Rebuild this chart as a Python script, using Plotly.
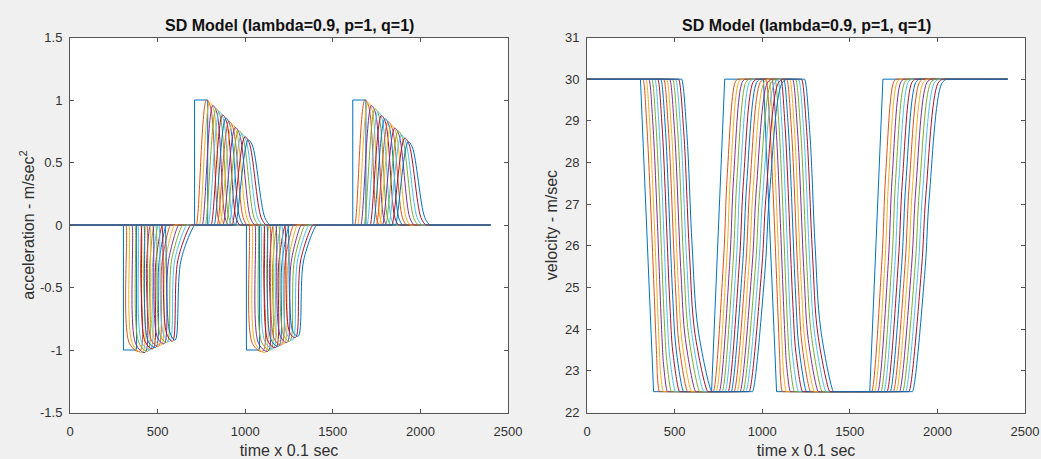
import plotly.graph_objects as go

# ---------------- data ----------------
T_END = 2400
N_FOLLOWERS = 14
COLORS = ['#0072BD', '#D95319', '#EDB120', '#7E2F8E', '#77AC30', '#4DBEEE', '#A2142F']

# Leader (vehicle 1): step acceleration profile and its velocity
LEAD_ACC_T = [0, 305, 305, 380, 380, 711, 711, 786, 786, 1007, 1007, 1082, 1082, 1614, 1614, 1689, 1689, 2400]
LEAD_ACC_V = [0, 0, -1, -1, 0, 0, 1, 1, 0, 0, -1, -1, 0, 0, 1, 1, 0, 0]
LEAD_VEL_T = [0, 305, 380, 711, 786, 1007, 1082, 1614, 1689, 2400]
LEAD_VEL_V = [30, 30, 22.5, 22.5, 30, 30, 22.5, 22.5, 30, 30]

V_HIGH = 30
V_LOW = 22.5

# Event 1: first braking wave (followers 2..15)
E1_T0 = [319, 336, 353, 370, 387, 404, 421, 438, 455, 472, 489, 506, 523, 540]
E1_T1 = [340, 357, 375, 393, 410, 428, 446, 464, 481, 499, 517, 535, 552, 570]
E1_A1 = [-0.95, -0.95, -0.95, -0.94, -0.94, -0.93, -0.93, -0.92, -0.91, -0.9, -0.89, -0.88, -0.87, -0.86]
E1_T2 = [398, 413, 428, 443, 458, 473, 489, 505, 521, 537, 553, 569, 585, 600]
E1_A2 = [-1.01, -1.02, -1.02, -1.01, -1.0, -0.99, -0.98, -0.97, -0.96, -0.95, -0.94, -0.93, -0.93, -0.92]
E1_T3K = [403, 420, 437, 455, 472, 490, 508, 526, 544, 562, 580, 598, 616, 634]
E1_A3 = [-0.32, -0.32, -0.31, -0.31, -0.3, -0.3, -0.3, -0.29, -0.29, -0.29, -0.28, -0.28, -0.28, -0.28]
E1_T3 = [413, 436, 459, 482, 505, 528, 551, 574, 597, 620, 643, 666, 689, 712]
E1_VA = [29.0, 29.0, 29.0, 28.95, 28.95, 28.9, 28.9, 28.85, 28.85, 28.8, 28.8, 28.75, 28.75, 28.7]
E1_VB = [23.3, 23.5, 23.8, 24.05, 24.3, 24.6, 24.8, 25.0, 25.1, 25.3, 25.5, 25.65, 25.8, 26.0]
E1_VC = [22.8, 22.95, 23.15, 23.25, 23.35, 23.45, 23.55, 23.6, 23.65, 23.75, 23.85, 23.9, 23.9, 24.0]

# Event 2: first speed-up wave
E2_T0 = [721, 738, 755, 772, 789, 806, 823, 840, 857, 874, 891, 908, 926, 945]
E2_P = [779, 797, 815, 834, 852, 870, 889, 907, 925, 943, 962, 980, 998, 1017]
E2_H = [1.0, 0.98, 0.955, 0.93, 0.905, 0.88, 0.855, 0.83, 0.805, 0.78, 0.755, 0.73, 0.705, 0.68]
E2_F = [801, 819, 837, 856, 874, 893, 912, 930, 949, 967, 986, 1004, 1022, 1040]
E2_HF = [0.95, 0.93, 0.905, 0.88, 0.855, 0.83, 0.805, 0.78, 0.755, 0.73, 0.705, 0.68, 0.66, 0.64]
E2_G = [845, 865, 885, 906, 926, 947, 968, 988, 1009, 1029, 1050, 1070, 1091, 1112]
E2_HG = [0.06, 0.06, 0.06, 0.06, 0.06, 0.06, 0.06, 0.06, 0.06, 0.06, 0.06, 0.06, 0.06, 0.06]
E2_T3 = [860, 882, 903, 925, 946, 968, 990, 1011, 1033, 1054, 1076, 1097, 1119, 1141]
E2_VP = [25.63, 25.63, 25.62, 25.62, 25.61, 25.61, 25.6, 25.58, 25.56, 25.54, 25.53, 25.51, 25.48, 25.46]
E2_VF = [27.74, 27.7, 27.66, 27.62, 27.58, 27.55, 27.51, 27.46, 27.42, 27.37, 27.32, 27.26, 27.2, 27.13]
E2_VG = [29.92, 29.92, 29.92, 29.92, 29.92, 29.92, 29.92, 29.92, 29.91, 29.91, 29.91, 29.9, 29.9, 29.9]

# Event 3: second braking wave
E3_T0 = [1021, 1038, 1055, 1072, 1089, 1106, 1123, 1140, 1157, 1174, 1191, 1208, 1225, 1242]
E3_T1 = [1042, 1059, 1077, 1095, 1112, 1130, 1148, 1166, 1183, 1201, 1219, 1237, 1254, 1272]
E3_A1 = [-0.95, -0.95, -0.95, -0.94, -0.93, -0.93, -0.92, -0.91, -0.9, -0.89, -0.88, -0.87, -0.86, -0.85]
E3_T2 = [1100, 1115, 1130, 1145, 1160, 1175, 1191, 1207, 1223, 1239, 1255, 1271, 1287, 1302]
E3_A2 = [-1.01, -1.02, -1.01, -1.0, -0.99, -0.98, -0.97, -0.96, -0.95, -0.94, -0.93, -0.92, -0.9, -0.89]
E3_T3K = [1105, 1122, 1139, 1157, 1174, 1192, 1210, 1228, 1246, 1263, 1281, 1299, 1317, 1334]
E3_A3 = [-0.32, -0.32, -0.31, -0.31, -0.3, -0.3, -0.3, -0.29, -0.29, -0.29, -0.28, -0.28, -0.28, -0.28]
E3_T3 = [1115, 1138, 1161, 1184, 1207, 1230, 1253, 1276, 1298, 1320, 1342, 1364, 1386, 1407]
E3_VA = [29.0, 29.0, 29.0, 28.95, 28.95, 28.9, 28.9, 28.85, 28.85, 28.8, 28.8, 28.75, 28.75, 28.7]
E3_VB = [23.3, 23.5, 23.8, 24.05, 24.3, 24.6, 24.8, 25.0, 25.1, 25.3, 25.5, 25.65, 25.8, 26.0]
E3_VC = [22.8, 22.95, 23.15, 23.25, 23.35, 23.45, 23.55, 23.6, 23.65, 23.75, 23.85, 23.9, 23.9, 24.0]

# Event 4: second speed-up wave
E4_T0 = [1625, 1642, 1660, 1678, 1695, 1713, 1731, 1749, 1766, 1784, 1802, 1819, 1838, 1858]
E4_P = [1683, 1701, 1720, 1740, 1758, 1777, 1797, 1816, 1834, 1853, 1873, 1891, 1910, 1930]
E4_H = [1.0, 0.98, 0.955, 0.93, 0.905, 0.875, 0.85, 0.825, 0.8, 0.775, 0.75, 0.72, 0.695, 0.665]
E4_F = [1705, 1723, 1742, 1762, 1780, 1800, 1820, 1839, 1858, 1877, 1897, 1915, 1934, 1953]
E4_HF = [0.95, 0.93, 0.905, 0.88, 0.855, 0.825, 0.8, 0.775, 0.75, 0.725, 0.7, 0.67, 0.65, 0.625]
E4_G = [1749, 1769, 1790, 1812, 1832, 1854, 1876, 1897, 1918, 1939, 1961, 1981, 2003, 2025]
E4_HG = [0.06, 0.06, 0.06, 0.06, 0.06, 0.06, 0.06, 0.06, 0.06, 0.06, 0.06, 0.06, 0.06, 0.06]
E4_T3 = [1764, 1786, 1808, 1831, 1852, 1875, 1898, 1920, 1942, 1964, 1987, 2008, 2031, 2054]
E4_VP = [25.63, 25.63, 25.62, 25.62, 25.61, 25.61, 25.6, 25.58, 25.56, 25.54, 25.53, 25.51, 25.48, 25.46]
E4_VF = [27.74, 27.7, 27.66, 27.62, 27.58, 27.55, 27.51, 27.46, 27.42, 27.37, 27.32, 27.26, 27.2, 27.13]
E4_VG = [29.92, 29.92, 29.92, 29.92, 29.92, 29.92, 29.92, 29.92, 29.91, 29.91, 29.91, 29.9, 29.9, 29.9]

X_TICKS = [0, 500, 1000, 1500, 2000, 2500]
X_TICKTEXT = ['0', '500', '1000', '1500', '2000', '2500']
ACC_TICKS = [-1.5, -1, -0.5, 0, 0.5, 1, 1.5]
ACC_TICKTEXT = ['-1.5', '-1', '-0.5', '0', '0.5', '1', '1.5']
VEL_TICKS = [22, 23, 24, 25, 26, 27, 28, 29, 30, 31]
VEL_TICKTEXT = ['22', '23', '24', '25', '26', '27', '28', '29', '30', '31']

TITLE = 'SD Model (lambda=0.9, p=1, q=1)'
X_LABEL = 'time x 0.1 sec'
ACC_LABEL = 'acceleration - m/sec<sup>2</sup>'
VEL_LABEL = 'velocity - m/sec'

# ---------------- build follower polylines from the read values ----------------
ANCHOR = 4  # short flat lead-in/out so the smoothed line stays flat


def build(events, start_val, end_val):
    xs, ys = [0], [start_val]
    for ev in events:
        first, last = ev[0], ev[-1]
        xs.append(first[0] - ANCHOR)
        ys.append(first[1])
        for t, v in ev:
            xs.append(t)
            ys.append(v)
        xs.append(last[0] + ANCHOR)
        ys.append(last[1])
    xs.append(T_END)
    ys.append(end_val)
    return xs, ys


acc_traces, vel_traces = [], []
for j in range(N_FOLLOWERS):
    acc_events = [
        [(E1_T0[j], 0), (E1_T1[j], E1_A1[j]), (E1_T2[j], E1_A2[j]), (E1_T3K[j], E1_A3[j]), (E1_T3[j], 0)],
        [(E2_T0[j], 0), (E2_P[j], E2_H[j]), (E2_F[j], E2_HF[j]), (E2_G[j], E2_HG[j]), (E2_T3[j], 0)],
        [(E3_T0[j], 0), (E3_T1[j], E3_A1[j]), (E3_T2[j], E3_A2[j]), (E3_T3K[j], E3_A3[j]), (E3_T3[j], 0)],
        [(E4_T0[j], 0), (E4_P[j], E4_H[j]), (E4_F[j], E4_HF[j]), (E4_G[j], E4_HG[j]), (E4_T3[j], 0)],
    ]
    vel_events = [
        [(E1_T0[j], V_HIGH), (E1_T1[j], E1_VA[j]), (E1_T2[j], E1_VB[j]), (E1_T3K[j], E1_VC[j]), (E1_T3[j], V_LOW)],
        [(E2_T0[j], V_LOW), (E2_P[j], E2_VP[j]), (E2_F[j], E2_VF[j]), (E2_G[j], E2_VG[j]), (E2_T3[j], V_HIGH)],
        [(E3_T0[j], V_HIGH), (E3_T1[j], E3_VA[j]), (E3_T2[j], E3_VB[j]), (E3_T3K[j], E3_VC[j]), (E3_T3[j], V_LOW)],
        [(E4_T0[j], V_LOW), (E4_P[j], E4_VP[j]), (E4_F[j], E4_VF[j]), (E4_G[j], E4_VG[j]), (E4_T3[j], V_HIGH)],
    ]
    acc_traces.append(build(acc_events, 0, 0))
    vel_traces.append(build(vel_events, V_HIGH, V_HIGH))

# ---------------- figure ----------------
fig = go.Figure()
LW = 1.0

fig.add_trace(go.Scatter(x=LEAD_ACC_T, y=LEAD_ACC_V, mode='lines',
                         line=dict(color=COLORS[0], width=LW), xaxis='x', yaxis='y', showlegend=False))
for j, (xs, ys) in enumerate(acc_traces):
    fig.add_trace(go.Scatter(x=xs, y=ys, mode='lines',
                             line=dict(color=COLORS[(j + 1) % 7], width=LW, shape='spline', smoothing=1.0),
                             xaxis='x', yaxis='y', showlegend=False))

fig.add_trace(go.Scatter(x=LEAD_VEL_T, y=LEAD_VEL_V, mode='lines',
                         line=dict(color=COLORS[0], width=LW), xaxis='x2', yaxis='y2', showlegend=False))
for j, (xs, ys) in enumerate(vel_traces):
    fig.add_trace(go.Scatter(x=xs, y=ys, mode='lines',
                             line=dict(color=COLORS[(j + 1) % 7], width=LW, shape='spline', smoothing=1.0),
                             xaxis='x2', yaxis='y2', showlegend=False))

FONT = 'Liberation Sans, Arial, Helvetica, sans-serif'
AX_COLOR = '#555555'
TXT_COLOR = '#303030'

common = dict(showline=True, linecolor=AX_COLOR, linewidth=1, mirror='ticks', ticks='inside',
              ticklen=4, tickcolor=AX_COLOR, showgrid=False, zeroline=False, automargin=False,
              tickfont=dict(family=FONT, size=13, color=TXT_COLOR))
xcommon = dict(ticklabelstandoff=7, **common)
ycommon = dict(ticklabelstandoff=4, **common)

XDOM_L = [70 / 1041, 508 / 1041]
XDOM_R = [587 / 1041, 1025 / 1041]
YDOM = [(459 - 412.5) / 459, (459 - 37.5) / 459]

label_font = dict(family=FONT, size=16, color=TXT_COLOR)

fig.update_layout(
    width=1041, height=459,
    margin=dict(l=0, r=0, t=0, b=0, autoexpand=False),
    paper_bgcolor='#F0F0F0', plot_bgcolor='white',
    font=dict(family=FONT, color=TXT_COLOR),
    xaxis=dict(domain=XDOM_L, range=[0, 2500], tickvals=X_TICKS, ticktext=X_TICKTEXT, anchor='y',
               title=dict(text=X_LABEL, font=label_font, standoff=9), **xcommon),
    yaxis=dict(domain=YDOM, range=[-1.5, 1.5], tickvals=ACC_TICKS, ticktext=ACC_TICKTEXT, anchor='x',
               title=dict(text=ACC_LABEL, font=label_font, standoff=1), **ycommon),
    xaxis2=dict(domain=XDOM_R, range=[0, 2500], tickvals=X_TICKS, ticktext=X_TICKTEXT, anchor='y2',
                title=dict(text=X_LABEL, font=label_font, standoff=9), **xcommon),
    yaxis2=dict(domain=YDOM, range=[22, 31], tickvals=VEL_TICKS, ticktext=VEL_TICKTEXT, anchor='x2',
                title=dict(text=VEL_LABEL, font=label_font, standoff=3), **ycommon),
    annotations=[
        dict(text='<b>' + TITLE + '</b>', x=(XDOM_L[0] + XDOM_L[1]) / 2, y=YDOM[1], xref='paper', yref='paper',
             xanchor='center', yanchor='bottom', yshift=2, showarrow=False,
             font=dict(family=FONT, size=16, color='#111111')),
        dict(text='<b>' + TITLE + '</b>', x=(XDOM_R[0] + XDOM_R[1]) / 2, y=YDOM[1], xref='paper', yref='paper',
             xanchor='center', yanchor='bottom', yshift=2, showarrow=False,
             font=dict(family=FONT, size=16, color='#111111')),
    ],
)

PAGE_FIX = ("document.body.style.margin='0';document.body.style.padding='0';"
            "document.body.style.overflow='hidden';document.body.style.background='#F0F0F0';")

fig.write_html('out.html', post_script=PAGE_FIX, config={'displayModeBar': False})
